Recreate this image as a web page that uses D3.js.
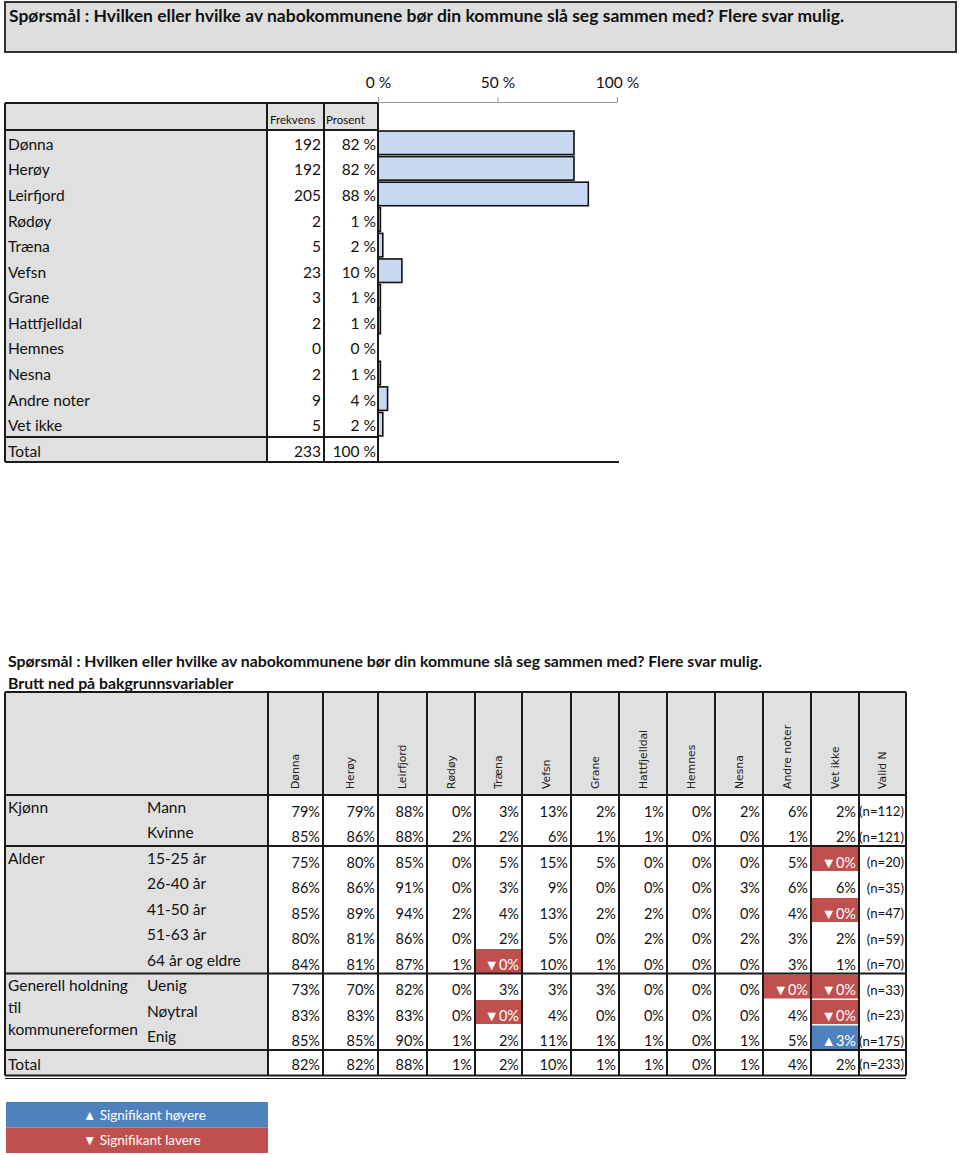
<!DOCTYPE html>
<html>
<head>
<meta charset="utf-8">
<script src="https://cdn.jsdelivr.net/npm/d3@7"></script>
<style>
  html, body { margin: 0; padding: 0; background: #fff; }
  svg { display: block; }
  text { font-family: Lato, "Open Sans", sans-serif; fill: #111; }
  .hdr { font-family: "DejaVu Sans", Verdana, sans-serif; font-size: 10.8px; fill: #222; }
</style>
</head>
<body>
<svg id="chart" width="960" height="1155"></svg>
<script>
// ---------- DATA ----------
const titleText = "Spørsmål : Hvilken eller hvilke av nabokommunene bør din kommune slå seg sammen med? Flere svar mulig.";
const subTitleText = "Brutt ned på bakgrunnsvariabler";

const categories = ["Dønna", "Herøy", "Leirfjord", "Rødøy", "Træna", "Vefsn", "Grane", "Hattfjelldal", "Hemnes", "Nesna", "Andre noter", "Vet ikke"];
const frekvens   = [192, 192, 205, 2, 5, 23, 3, 2, 0, 2, 9, 5];
const prosent    = [82, 82, 88, 1, 2, 10, 1, 1, 0, 1, 4, 2];
const totalFrekvens = 233;
const totalProsent = 100;
const axisTicks = [0, 50, 100];

const colHeaders = ["Dønna", "Herøy", "Leirfjord", "Rødøy", "Træna", "Vefsn", "Grane", "Hattfjelldal", "Hemnes", "Nesna", "Andre noter", "Vet ikke", "Valid N"];
const groups = [
  { label: ["Kjønn"], rows: 2 },
  { label: ["Alder"], rows: 5 },
  { label: ["Generell holdning", "til", "kommunereformen"], rows: 3 },
  { label: ["Total"], rows: 1 }
];
const rowLabels = ["Mann", "Kvinne", "15-25 år", "26-40 år", "41-50 år", "51-63 år", "64 år og eldre", "Uenig", "Nøytral", "Enig", ""];
const rowValues = [
  [79, 79, 88, 0, 3, 13, 2, 1, 0, 2, 6, 2],
  [85, 86, 88, 2, 2, 6, 1, 1, 0, 0, 1, 2],
  [75, 80, 85, 0, 5, 15, 5, 0, 0, 0, 5, 0],
  [86, 86, 91, 0, 3, 9, 0, 0, 0, 3, 6, 6],
  [85, 89, 94, 2, 4, 13, 2, 2, 0, 0, 4, 0],
  [80, 81, 86, 0, 2, 5, 0, 2, 0, 2, 3, 2],
  [84, 81, 87, 1, 0, 10, 1, 0, 0, 0, 3, 1],
  [73, 70, 82, 0, 3, 3, 3, 0, 0, 0, 0, 0],
  [83, 83, 83, 0, 0, 4, 0, 0, 0, 0, 4, 0],
  [85, 85, 90, 1, 2, 11, 1, 1, 0, 1, 5, 3],
  [82, 82, 88, 1, 2, 10, 1, 1, 0, 1, 4, 2]
];
const validN = [112, 121, 20, 35, 47, 59, 70, 33, 23, 175, 233];
// significance: [row, column, direction]
const sigCells = [
  [2, 11, "down"],
  [4, 11, "down"],
  [6, 4, "down"],
  [7, 10, "down"],
  [7, 11, "down"],
  [8, 4, "down"],
  [8, 11, "down"],
  [9, 11, "up"]
];
const legendItems = [
  { dir: "up", label: "▲ Signifikant høyere" },
  { dir: "down", label: "▼ Signifikant lavere" }
];

// ---------- STYLE / LAYOUT ----------
const GRAY = "#e0e0e0", LINE = "#1a1a1a", BAR = "#c6d9f1", RED = "#c0504d", BLUE = "#4f81bd";
const svg = d3.select("#chart");

// Title box
svg.append("rect").attr("x", 5).attr("y", 2).attr("width", 951).attr("height", 50)
  .attr("fill", "#dedede").attr("stroke", "#333").attr("stroke-width", 2);
svg.append("text").attr("x", 9).attr("y", 15).attr("dominant-baseline", "central")
  .attr("font-weight", "bold").attr("font-size", 17.5).text(titleText);

// ---------- Upper table ----------
const tLeft = 5, cFrek = 267, cPros = 324, cBar = 378, hdrTop = 103, hdrBot = 130;
const rowsTop = 130, rowsBot = 437, totBot = 462;

const x = d3.scaleLinear().domain([0, 100]).range([cBar, 617]);
const y = d3.scaleBand().domain(categories).range([rowsTop, rowsBot]).paddingInner(0.08).paddingOuter(0.04);
const yRow = d3.scaleBand().domain(categories).range([rowsTop, rowsBot]);

// gray fills
svg.append("rect").attr("x", tLeft).attr("y", hdrTop).attr("width", cFrek - tLeft).attr("height", totBot - hdrTop).attr("fill", GRAY);
svg.append("rect").attr("x", cFrek).attr("y", hdrTop).attr("width", cBar - cFrek).attr("height", hdrBot - hdrTop).attr("fill", GRAY);

// axis
const axis = d3.axisTop(x).tickValues(axisTicks).tickFormat(d => d + " %").tickSizeInner(5).tickSizeOuter(0).tickPadding(9);
const axG = svg.append("g").attr("transform", `translate(0,102)`).call(axis);
axG.select(".domain").attr("stroke", "#999").attr("stroke-width", 1);
axG.selectAll(".tick line").attr("stroke", "#999");
axG.selectAll(".tick text").attr("font-size", 15.5).attr("font-family", "Lato, sans-serif").attr("fill", "#111");

// bars
svg.append("g").selectAll("rect").data(categories).join("rect")
  .attr("x", x(0))
  .attr("y", d => y(d))
  .attr("width", (d, i) => x(prosent[i]) - x(0))
  .attr("height", y.bandwidth())
  .attr("fill", BAR)
  .attr("stroke", (d, i) => prosent[i] > 0 ? "#111" : "none")
  .attr("stroke-width", 1.6);

// header texts
svg.append("text").attr("x", 270).attr("y", 119).attr("dominant-baseline", "central").attr("font-size", 11.5).text("Frekvens");
svg.append("text").attr("x", 326).attr("y", 119).attr("dominant-baseline", "central").attr("font-size", 11.5).text("Prosent");

// row texts
const rowG = svg.append("g");
categories.forEach((c, i) => {
  const cy = yRow(c) + yRow.bandwidth() / 2 + 1;
  rowG.append("text").attr("x", 8).attr("y", cy).attr("dominant-baseline", "central").attr("font-size", 15.5).text(c);
  rowG.append("text").attr("x", cPros - 3).attr("y", cy).attr("dominant-baseline", "central").attr("text-anchor", "end").attr("font-size", 15.5).text(frekvens[i]);
  rowG.append("text").attr("x", cBar - 2).attr("y", cy).attr("dominant-baseline", "central").attr("text-anchor", "end").attr("font-size", 15.5).text(prosent[i] + " %");
});
const totCy = (rowsBot + totBot) / 2 + 1;
rowG.append("text").attr("x", 8).attr("y", totCy).attr("dominant-baseline", "central").attr("font-size", 15.5).text("Total");
rowG.append("text").attr("x", cPros - 3).attr("y", totCy).attr("dominant-baseline", "central").attr("text-anchor", "end").attr("font-size", 15.5).text(totalFrekvens);
rowG.append("text").attr("x", cBar - 2).attr("y", totCy).attr("dominant-baseline", "central").attr("text-anchor", "end").attr("font-size", 15.5).text(totalProsent + " %");

// lines upper table
const L = svg.append("g").attr("stroke", LINE).attr("stroke-width", 2);
[[tLeft, hdrTop, cBar, hdrTop], [tLeft, hdrBot, cBar, hdrBot], [tLeft, rowsBot, cBar, rowsBot], [tLeft, totBot, 619, totBot],
 [tLeft, hdrTop, tLeft, totBot], [cFrek, hdrTop, cFrek, totBot], [cPros, hdrTop, cPros, totBot], [cBar, hdrTop, cBar, totBot]]
  .forEach(s => L.append("line").attr("x1", s[0]).attr("y1", s[1]).attr("x2", s[2]).attr("y2", s[3]));

// ---------- Lower table ----------
svg.append("text").attr("x", 8).attr("y", 660).attr("dominant-baseline", "central").attr("font-weight", "bold").attr("font-size", 15.8).text(titleText);
svg.append("text").attr("x", 8).attr("y", 682).attr("dominant-baseline", "central").attr("font-weight", "bold").attr("font-size", 15.8).text(subTitleText);

const colEdges = [268, 323, 378, 427, 475, 522, 571, 619, 667, 715, 763, 811, 859, 906];
const lTop = 692, lHdrBot = 795, pitch = 25.5, lLeft = 5, lRight = 906;
const rowY = d3.scaleLinear().domain([0, rowLabels.length]).range([lHdrBot, lHdrBot + pitch * rowLabels.length]);
const lBot = rowY(rowLabels.length);

svg.append("rect").attr("x", lLeft).attr("y", lTop).attr("width", lRight - lLeft).attr("height", lHdrBot - lTop).attr("fill", GRAY);
svg.append("rect").attr("x", lLeft).attr("y", lHdrBot).attr("width", colEdges[0] - lLeft).attr("height", lBot - lHdrBot).attr("fill", GRAY);

// significance fills
sigCells.forEach(([r, c, dir]) => {
  svg.append("rect").attr("x", colEdges[c]).attr("y", rowY(r) + 1).attr("width", colEdges[c + 1] - colEdges[c]).attr("height", pitch - 1.5)
    .attr("fill", dir === "up" ? BLUE : RED);
});

// rotated headers
colHeaders.forEach((h, i) => {
  const cx = (colEdges[i] + colEdges[i + 1]) / 2;
  svg.append("text").attr("class", "hdr").attr("transform", `translate(${cx},789) rotate(-90)`)
    .attr("dominant-baseline", "central").text(h);
});

// group labels & row labels
let gi = 0;
const rowGroupStart = [];
groups.forEach(g => { rowGroupStart.push(gi); gi += g.rows; });
groups.forEach((g, k) => {
  const top = rowY(rowGroupStart[k]);
  g.label.forEach((t, j) => {
    const yy = g.label[0] === "Total" ? top + 14 : top + 11.5 + j * 22;
    svg.append("text").attr("x", 8).attr("y", yy).attr("dominant-baseline", "central").attr("font-size", 15.5).text(t);
  });
});
rowLabels.forEach((t, r) => {
  if (!t) return;
  svg.append("text").attr("x", 147).attr("y", rowY(r) + 11.5).attr("dominant-baseline", "central").attr("font-size", 15.5).text(t);
});

// values
const sigMap = new Map(sigCells.map(s => [s[0] + "_" + s[1], s[2]]));
rowValues.forEach((vals, r) => {
  const cy = r === rowValues.length - 1 ? rowY(r) + 14 : rowY(r) + 16;
  vals.forEach((v, c) => {
    const dir = sigMap.get(r + "_" + c);
    const t = (dir === "up" ? "▲" : dir === "down" ? "▼" : "") + v + "%";
    svg.append("text").attr("x", colEdges[c + 1] - 3).attr("y", cy).attr("dominant-baseline", "central")
      .attr("text-anchor", "end").attr("font-size", 14.5)
      .style("fill", dir ? "#fff" : "#111").text(t);
  });
  svg.append("text").attr("x", lRight - 2).attr("y", cy).attr("dominant-baseline", "central")
    .attr("text-anchor", "end").attr("font-size", 13.2).text("(n=" + validN[r] + ")");
});

// lines lower table
const L2 = svg.append("g").attr("stroke", LINE).attr("stroke-width", 2);
[lTop, lHdrBot, rowY(2), rowY(7), rowY(10), lBot].forEach(yy =>
  L2.append("line").attr("x1", lLeft).attr("x2", lRight).attr("y1", yy).attr("y2", yy));
L2.append("line").attr("x1", lLeft).attr("x2", lRight).attr("y1", lBot + 3).attr("y2", lBot + 3).attr("stroke-width", 1.2);
[lLeft].concat(colEdges).forEach(xx =>
  L2.append("line").attr("x1", xx).attr("x2", xx).attr("y1", lTop).attr("y2", lBot));

// legend
legendItems.forEach((d, i) => {
  svg.append("rect").attr("x", 6).attr("y", 1102 + i * 25.5).attr("width", 262).attr("height", 25.5).attr("fill", d.dir === "up" ? BLUE : RED);
  svg.append("text").attr("x", 83).attr("y", 1102 + i * 25.5 + 12.5).attr("dominant-baseline", "central")
    .attr("font-size", 13.5).style("fill", "#fff").text(d.label);
});
</script>
</body>
</html>
